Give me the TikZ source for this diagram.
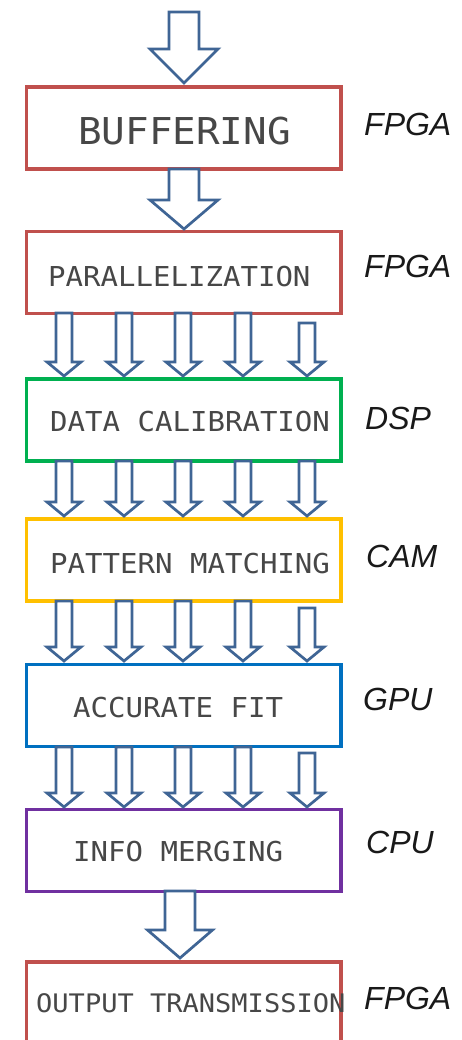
\documentclass[tikz,border=0pt]{standalone}
\usepackage{fontspec}
\newfontfamily\boxfont[FakeStretch=1.06]{DejaVu Sans Mono}
\newfontfamily\labfont{Liberation Sans}
\definecolor{cRed}{HTML}{C0504D}
\definecolor{cGreen}{HTML}{00B050}
\definecolor{cYellow}{HTML}{FFC000}
\definecolor{cBlue}{HTML}{0070C0}
\definecolor{cPurple}{HTML}{7030A0}
\definecolor{cArrow}{HTML}{3F6595}
\newcommand\blkarrow[6]{%
  \draw[barrow] (#1-#5,#2) -- (#1+#5,#2) -- (#1+#5,#3) -- (#1+#6,#3) -- (#1,#4) -- (#1-#6,#3) -- (#1-#5,#3) -- cycle;}
\newcommand\smallrow[3]{%
  \foreach \cx in {64,124,183,243}{\blkarrow{\cx}{#1}{#3-14}{#3}{8}{17}}
  \blkarrow{307}{#2}{#3-14}{#3}{8}{17}}
\begin{document}
\begin{tikzpicture}[x=1pt,y=-1pt,
  box/.style={draw, line width=3.7pt, fill=white, minimum width=314.5pt, minimum height=82pt, inner sep=0pt},
  boxtext/.style={anchor=west, inner sep=0pt, text=black!72, font=\boxfont\fontsize{27.4}{30}\selectfont},
  lab/.style={anchor=west, inner sep=0pt, text=black!90, font=\labfont\itshape\fontsize{32}{36}\selectfont},
  barrow/.style={draw=cArrow, line width=2.7pt, fill=white, line join=miter}]
\useasboundingbox (0,0) rectangle (462,1040);
\fill[white] (0,0) rectangle (462,1040);

% boxes
\node[box, draw=cRed] (b1) at (183.75,128) {};
\node[box, draw=cRed] (b2) at (183.75,272.5) {};
\node[box, draw=cGreen] (b3) at (183.75,420) {};
\node[box, draw=cYellow] (b4) at (183.75,560) {};
\node[box, draw=cBlue] (b5) at (183.75,705.5) {};
\node[box, draw=cPurple] (b6) at (183.75,850.5) {};
\node[box, draw=cRed, minimum height=84pt] (b7) at (183.75,1004) {};

% box texts
\node[boxtext, font=\boxfont\fontsize{37}{40}\selectfont] (t1) at (78,131.5) {BUFFERING};
\node[boxtext] (t2) at (48,277) {PARALLELIZATION};
\node[boxtext] (t3) at (50,422) {DATA CALIBRATION};
\node[boxtext] (t4) at (50,564) {PATTERN MATCHING};
\node[boxtext] (t5) at (73,707.5) {ACCURATE FIT};
\node[boxtext] (t6) at (73,851.5) {INFO MERGING};
\node[boxtext, font=\boxfont\fontsize{25.5}{28}\selectfont] (t7) at (36,1003) {OUTPUT TRANSMISSION};

% side labels
\node[lab] (l1) at (364,124.5) {FPGA};
\node[lab] (l2) at (364,266) {FPGA};
\node[lab] (l3) at (365,418.5) {DSP};
\node[lab] (l4) at (366,556) {CAM};
\node[lab] (l5) at (363,699) {GPU};
\node[lab] (l6) at (366,842) {CPU};
\node[lab] (l7) at (364,998) {FPGA};

% big arrows
\blkarrow{184}{12}{49}{83}{15}{34}
\blkarrow{184}{169}{200}{229}{15}{34}
\blkarrow{180}{891}{930}{958}{15}{32.5}

% small arrow rows
\smallrow{313}{323}{376}
\smallrow{461}{461}{516}
\smallrow{601}{608}{661}
\smallrow{747}{753}{807}
\end{tikzpicture}
\end{document}
